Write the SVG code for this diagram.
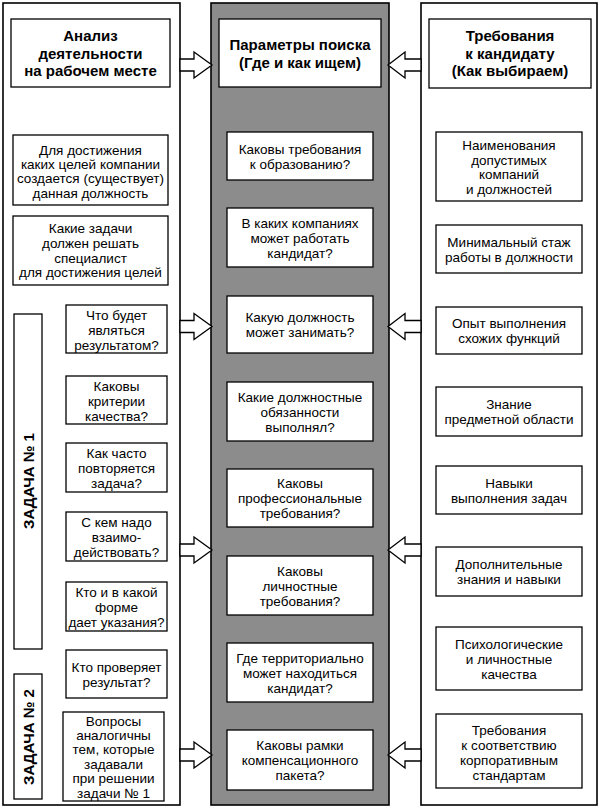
<svg xmlns="http://www.w3.org/2000/svg" width="600" height="809" viewBox="0 0 600 809">
<style>
.col{fill:#fff;stroke:#000;stroke-width:1.6}
.mid{fill:#8c8c8c;stroke:#000;stroke-width:1.6}
.box{fill:#fff;stroke:#000;stroke-width:1.3}
.bar{fill:#fff;stroke:#000;stroke-width:1.3}
.arr{fill:#fff;stroke:#000;stroke-width:1.3;stroke-linejoin:miter}
.h{font-family:"Liberation Sans",Arial,sans-serif;font-weight:bold;font-size:15px;text-anchor:middle;fill:#000}
.t{font-family:"Liberation Sans",Arial,sans-serif;font-size:13.5px;text-anchor:middle;fill:#000}
.v{font-family:"Liberation Sans",Arial,sans-serif;font-weight:bold;font-size:15px;text-anchor:middle;fill:#000}
</style>
<rect x="0" y="0" width="600" height="809" fill="#fff"/>
<g id="columns">
<rect class="col" x="3" y="3" width="177" height="802"/>
<rect class="mid" x="211" y="3" width="178" height="802"/>
<rect class="col" x="421" y="3" width="176" height="802"/>
</g>
<g id="connectors">
<polygon class="arr" points="180,59 194,59 194,52 212,65 194,78 194,71 180,71"/>
<polygon class="arr" points="180,320.5 194,320.5 194,313.5 212,326.5 194,339.5 194,332.5 180,332.5"/>
<polygon class="arr" points="180,544 194,544 194,537 212,550 194,563 194,556 180,556"/>
<polygon class="arr" points="180,749 194,749 194,742 212,755 194,768 194,761 180,761"/>
<polygon class="arr" points="421,59 405,59 405,52 388,65 405,78 405,71 421,71"/>
<polygon class="arr" points="421,320.5 405,320.5 405,313.5 388,326.5 405,339.5 405,332.5 421,332.5"/>
<polygon class="arr" points="421,544 405,544 405,537 388,550 405,563 405,556 421,556"/>
<polygon class="arr" points="421,749 405,749 405,742 388,755 405,768 405,761 421,761"/>
</g>
<g id="hdr-left"><rect class="box" x="11" y="19" width="159" height="68"/>
<text class="h" x="90.5" y="41">Анализ<tspan x="90.5" dy="17.5">деятельности</tspan><tspan x="90.5" dy="17.5">на рабочем месте</tspan></text></g>
<g id="hdr-mid"><rect class="box" x="219" y="19" width="162" height="68"/>
<text class="h" x="300" y="50">Параметры поиска<tspan x="300" dy="18">(Где и как ищем)</tspan></text></g>
<g id="hdr-right"><rect class="box" x="429" y="19" width="162" height="69"/>
<text class="h" x="510" y="41">Требования<tspan x="510" dy="17.5">к кандидату</tspan><tspan x="510" dy="17.5">(Как выбираем)</tspan></text></g>

<g id="l1"><rect class="box" x="13" y="135" width="155" height="70"/>
<text class="t" x="90.5" y="155">Для достижения<tspan x="90.5" dy="14.2">каких целей компании</tspan><tspan x="90.5" dy="14.2">создается (существует)</tspan><tspan x="90.5" dy="14.2">данная должность</tspan></text></g>
<g id="l2"><rect class="box" x="13" y="216" width="155" height="69"/>
<text class="t" x="90.5" y="233">Какие задачи<tspan x="90.5" dy="14.8">должен решать</tspan><tspan x="90.5" dy="14.8">специалист</tspan><tspan x="90.5" dy="14.8">для достижения целей</tspan></text></g>
<g id="task1"><rect class="bar" x="14" y="314" width="28" height="335"/>
<text class="v" transform="translate(33.5,481) rotate(-90)" x="0" y="0">ЗАДАЧА № 1</text></g>
<g id="task2"><rect class="bar" x="14" y="674" width="28" height="125"/>
<text class="v" transform="translate(33.5,737) rotate(-90)" x="0" y="0">ЗАДАЧА № 2</text></g>
<g id="l3"><rect class="box" x="66" y="305" width="101" height="48"/>
<text class="t" x="116.5" y="319.5">Что будет<tspan x="116.5" dy="15">являться</tspan><tspan x="116.5" dy="15">результатом?</tspan></text></g>
<g id="l4"><rect class="box" x="66" y="376" width="101" height="48"/>
<text class="t" x="116.5" y="390.5">Каковы<tspan x="116.5" dy="15">критерии</tspan><tspan x="116.5" dy="15">качества?</tspan></text></g>
<g id="l5"><rect class="box" x="66" y="443" width="101" height="49"/>
<text class="t" x="116.5" y="458">Как часто<tspan x="116.5" dy="15">повторяется</tspan><tspan x="116.5" dy="15">задача?</tspan></text></g>
<g id="l6"><rect class="box" x="66" y="512" width="101" height="49"/>
<text class="t" x="116.5" y="527">С кем надо<tspan x="116.5" dy="15">взаимо-</tspan><tspan x="116.5" dy="15">действовать?</tspan></text></g>
<g id="l7"><rect class="box" x="66" y="582" width="101" height="49"/>
<text class="t" x="116.5" y="597">Кто и в какой<tspan x="116.5" dy="15">форме</tspan><tspan x="116.5" dy="15">дает указания?</tspan></text></g>
<g id="l8"><rect class="box" x="66" y="650" width="101" height="48"/>
<text class="t" x="116.5" y="671.5">Кто проверяет<tspan x="116.5" dy="15">результат?</tspan></text></g>
<g id="l9"><rect class="box" x="63" y="712" width="101" height="89"/>
<text class="t" x="113.5" y="725.5">Вопросы<tspan x="113.5" dy="14.4">аналогичны</tspan><tspan x="113.5" dy="14.4">тем, которые</tspan><tspan x="113.5" dy="14.4">задавали</tspan><tspan x="113.5" dy="14.4">при решении</tspan><tspan x="113.5" dy="14.4">задачи № 1</tspan></text></g>

<g id="c1"><rect class="box" x="227" y="132" width="146" height="48"/>
<text class="t" x="300" y="153.5">Каковы требования<tspan x="300" dy="15">к образованию?</tspan></text></g>
<g id="c2"><rect class="box" x="227" y="208" width="146" height="59"/>
<text class="t" x="300" y="227.5">В каких компаниях<tspan x="300" dy="15">может работать</tspan><tspan x="300" dy="15">кандидат?</tspan></text></g>
<g id="c3"><rect class="box" x="227" y="296" width="146" height="57"/>
<text class="t" x="300" y="322">Какую должность<tspan x="300" dy="15">может занимать?</tspan></text></g>
<g id="c4"><rect class="box" x="227" y="382" width="146" height="59"/>
<text class="t" x="300" y="401.5">Какие должностные<tspan x="300" dy="15">обязанности</tspan><tspan x="300" dy="15">выполнял?</tspan></text></g>
<g id="c5"><rect class="box" x="227" y="469" width="146" height="58"/>
<text class="t" x="300" y="488">Каковы<tspan x="300" dy="15">профессиональные</tspan><tspan x="300" dy="15">требования?</tspan></text></g>
<g id="c6"><rect class="box" x="227" y="556" width="146" height="59"/>
<text class="t" x="300" y="575.5">Каковы<tspan x="300" dy="15">личностные</tspan><tspan x="300" dy="15">требования?</tspan></text></g>
<g id="c7"><rect class="box" x="227" y="643" width="146" height="59"/>
<text class="t" x="300" y="662.5">Где территориально<tspan x="300" dy="15">может находиться</tspan><tspan x="300" dy="15">кандидат?</tspan></text></g>
<g id="c8"><rect class="box" x="227" y="730" width="146" height="60"/>
<text class="t" x="300" y="750">Каковы рамки<tspan x="300" dy="15">компенсационного</tspan><tspan x="300" dy="15">пакета?</tspan></text></g>

<g id="r1"><rect class="box" x="436" y="132" width="146" height="69"/>
<text class="t" x="509" y="150">Наименования<tspan x="509" dy="14.5">допустимых</tspan><tspan x="509" dy="14.5">компаний</tspan><tspan x="509" dy="14.5">и должностей</tspan></text></g>
<g id="r2"><rect class="box" x="436" y="225" width="146" height="48"/>
<text class="t" x="509" y="246.5">Минимальный стаж<tspan x="509" dy="15">работы в должности</tspan></text></g>
<g id="r3"><rect class="box" x="436" y="307" width="146" height="47"/>
<text class="t" x="509" y="328">Опыт выполнения<tspan x="509" dy="15">схожих функций</tspan></text></g>
<g id="r4"><rect class="box" x="436" y="387" width="146" height="49"/>
<text class="t" x="509" y="409">Знание<tspan x="509" dy="15">предметной области</tspan></text></g>
<g id="r5"><rect class="box" x="436" y="466" width="146" height="48"/>
<text class="t" x="509" y="487.5">Навыки<tspan x="509" dy="15">выполнения задач</tspan></text></g>
<g id="r6"><rect class="box" x="436" y="547" width="146" height="49"/>
<text class="t" x="509" y="569">Дополнительные<tspan x="509" dy="15">знания и навыки</tspan></text></g>
<g id="r7"><rect class="box" x="436" y="627" width="146" height="63"/>
<text class="t" x="509" y="648.5">Психологические<tspan x="509" dy="15">и личностные</tspan><tspan x="509" dy="15">качества</tspan></text></g>
<g id="r8"><rect class="box" x="436" y="714" width="146" height="74"/>
<text class="t" x="509" y="734.5">Требования<tspan x="509" dy="15">к соответствию</tspan><tspan x="509" dy="15">корпоративным</tspan><tspan x="509" dy="15">стандартам</tspan></text></g>
</svg>
